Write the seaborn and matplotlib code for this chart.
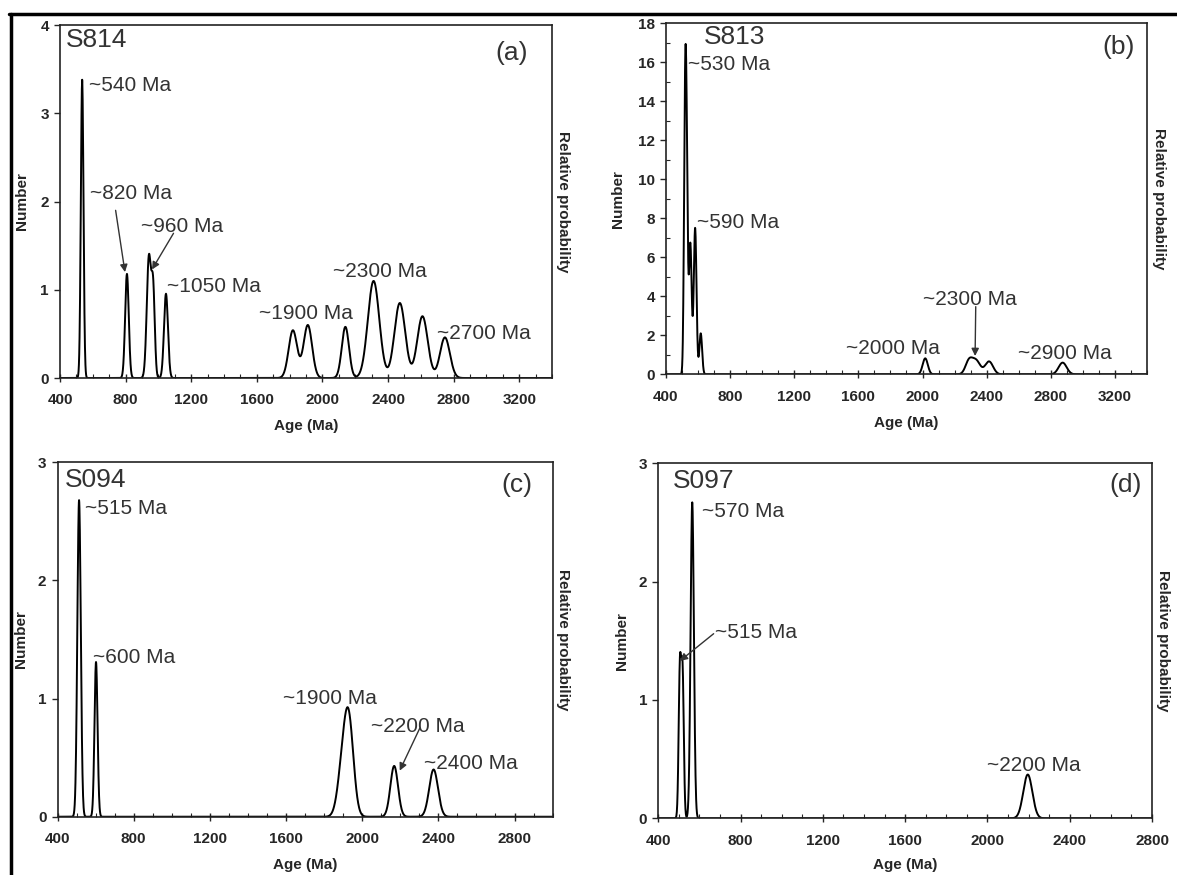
import numpy as np
import matplotlib
matplotlib.use('Agg')
import matplotlib.pyplot as plt
from matplotlib.lines import Line2D
from matplotlib.ticker import MultipleLocator
import seaborn as sns

# peak components: centre age (Ma), height (Number), spread (Ma)
a_ages = [535, 808, 942, 968, 1046, 1820, 1911, 2140, 2312, 2472, 2610, 2747]
a_heights = [3.38, 1.18, 1.37, 0.95, 0.955, 0.54, 0.60, 0.58, 1.10, 0.85, 0.70, 0.46]
a_sigmas = [8, 11, 13, 10, 12, 26, 26, 22, 35, 33, 32, 30]

b_ages = [519, 529, 552, 582, 617, 2017, 2290, 2335, 2415, 2874]
b_heights = [12.1, 9.6, 6.7, 7.5, 2.1, 0.82, 0.68, 0.68, 0.66, 0.60]
b_sigmas = [7, 7, 8.5, 8.5, 8.5, 16, 22, 25, 25, 25]

c_ages = [513, 602, 1895, 1930, 2168, 2375]
c_heights = [2.68, 1.31, 0.35, 0.77, 0.43, 0.40]
c_sigmas = [9, 8, 25, 25, 20, 23]

d_ages = [505, 518, 565, 2196]
d_heights = [1.25, 1.20, 2.67, 0.37]
d_sigmas = [6, 6, 8, 22]

samples = ['S814', 'S813', 'S094', 'S097']
letters = ['(a)', '(b)', '(c)', '(d)']

a_labels = ['~540 Ma', '~820 Ma', '~960 Ma', '~1050 Ma', '~1900 Ma', '~2300 Ma', '~2700 Ma']
b_labels = ['~530 Ma', '~590 Ma', '~2300 Ma', '~2000 Ma', '~2900 Ma']
c_labels = ['~515 Ma', '~600 Ma', '~1900 Ma', '~2200 Ma', '~2400 Ma']
d_labels = ['~570 Ma', '~515 Ma', '~2200 Ma']

x_max = [3400, 3400, 3000, 2800]
x_tick_max = [3200, 3200, 2800, 2800]
y_max = [4, 18, 3, 3]
y_step = [1, 2, 1, 1]


def density(ages, heights, sigmas, grid):
    a = np.asarray(ages, float)[:, None]
    h = np.asarray(heights, float)[:, None]
    s = np.asarray(sigmas, float)[:, None]
    return (h * np.exp(-0.5 * ((grid[None, :] - a) / s) ** 2)).sum(axis=0)


sns.set_style('white')
plt.rcParams['font.family'] = ['Liberation Sans', 'DejaVu Sans']

fig = plt.figure(figsize=(11.77, 8.75), dpi=100)

# axes rectangles in figure fraction
rects = [
    [0.0510, 0.5680, 0.4180, 0.4034],
    [0.5658, 0.5722, 0.4087, 0.4011],
    [0.0489, 0.0666, 0.4206, 0.4050],
    [0.5593, 0.0648, 0.4195, 0.4057],
]
peaks = [(a_ages, a_heights, a_sigmas), (b_ages, b_heights, b_sigmas),
         (c_ages, c_heights, c_sigmas), (d_ages, d_heights, d_sigmas)]
labels = [a_labels, b_labels, c_labels, d_labels]

# text layout: (x, y) in data coords, left aligned
label_pos = [
    [(575, 3.31), (583, 2.09), (892, 1.72), (1053, 1.04), (1614, 0.726), (2067, 1.204), (2701, 0.508)],
    [(538, 15.9), (592, 7.79), (2000, 3.85), (1526, 1.33), (2596, 1.08)],
    [(542, 2.61), (588, 1.35), (1584, 1.00), (2045, 0.76), (2322, 0.45)],
    [(611, 2.59), (678, 1.57), (2000, 0.446)],
]
arrows = [
    [((739, 1.90), (796, 1.20)), ((1092, 1.64), (961, 1.23))],
    [((2332, 3.47), (2328, 0.94))],
    [((2302, 0.748), (2197, 0.39))],
    [((669, 1.56), (505, 1.33))],
]
sample_pos = [(0.0115, 0.957), (0.0794, 0.962), (0.0144, 0.950), (0.0303, 0.951)]
letter_pos = [(0.950, 0.922), (0.975, 0.934), (0.960, 0.936), (0.9795, 0.939)]
ylab_x = [-0.0776, -0.0998, -0.0743, -0.0739]
rlab_x = [1.0224, 1.025, 1.0206, 1.0223]
xlab_y = [-0.136, -0.139, -0.136, -0.1316]

txt_col = '#333333'

for i in range(4):
    ax = fig.add_axes(rects[i])
    grid = np.arange(400, x_max[i] + 1, 1.0)
    curve = density(*peaks[i], grid)
    sns.lineplot(x=grid, y=curve, ax=ax, color='black', lw=1.4, estimator=None)

    ax.set_xlim(400, x_max[i])
    ax.set_ylim(0, y_max[i])
    ax.set_xticks(np.arange(400, x_tick_max[i] + 1, 400))
    ax.xaxis.set_minor_locator(MultipleLocator(100))
    ax.set_yticks(np.arange(0, y_max[i] + 0.01, y_step[i]))
    if i == 1:
        ax.yaxis.set_minor_locator(MultipleLocator(1))

    for sp in ax.spines.values():
        sp.set_linewidth(1.2)
        sp.set_color('#222222')
    ax.tick_params(axis='x', which='major', direction='inout', length=6, width=1,
                   pad=8, labelsize=11, bottom=True)
    ax.tick_params(axis='x', which='minor', direction='in', length=3, width=0.8, bottom=True)
    ax.tick_params(axis='y', which='major', direction='out', length=4, width=1,
                   pad=4, labelsize=11, left=True)
    ax.tick_params(axis='y', which='minor', direction='in', length=3, width=0.8, left=True)
    for lab in ax.get_xticklabels() + ax.get_yticklabels():
        lab.set_fontweight('bold')

    ax.set_xlabel('Age (Ma)', fontsize=11, fontweight='bold')
    ax.xaxis.set_label_coords(0.5, xlab_y[i])
    ax.xaxis.label.set_va('center')
    ax.set_ylabel('Number', fontsize=11, fontweight='bold')
    ax.yaxis.set_label_coords(ylab_x[i], 0.5)
    ax.yaxis.label.set_va('center')
    ax.text(rlab_x[i], 0.5, 'Relative probability', transform=ax.transAxes, rotation=270,
            ha='center', va='center', fontsize=11, fontweight='bold')

    ax.text(*sample_pos[i], samples[i], transform=ax.transAxes, ha='left', va='center',
            fontsize=19, color=txt_col)
    ax.text(*letter_pos[i], letters[i], transform=ax.transAxes, ha='right', va='center',
            fontsize=19, color=txt_col)

    for lab, (x, y) in zip(labels[i], label_pos[i]):
        ax.text(x, y, lab, ha='left', va='center', fontsize=15, color=txt_col)
    for tail, tip in arrows[i]:
        ax.annotate('', xy=tip, xytext=tail,
                    arrowprops=dict(arrowstyle='-|>', color='#333333', lw=1.0,
                                    mutation_scale=11, shrinkA=0, shrinkB=0))

# page frame lines (top and left)
fig.add_artist(Line2D([9 / 1177, 1.0], [1 - 14 / 875, 1 - 14 / 875], color='black', lw=2.5))
fig.add_artist(Line2D([11 / 1177, 11 / 1177], [0.0, 1 - 14 / 875], color='black', lw=2.5))

fig.savefig('out.png', dpi=100)
